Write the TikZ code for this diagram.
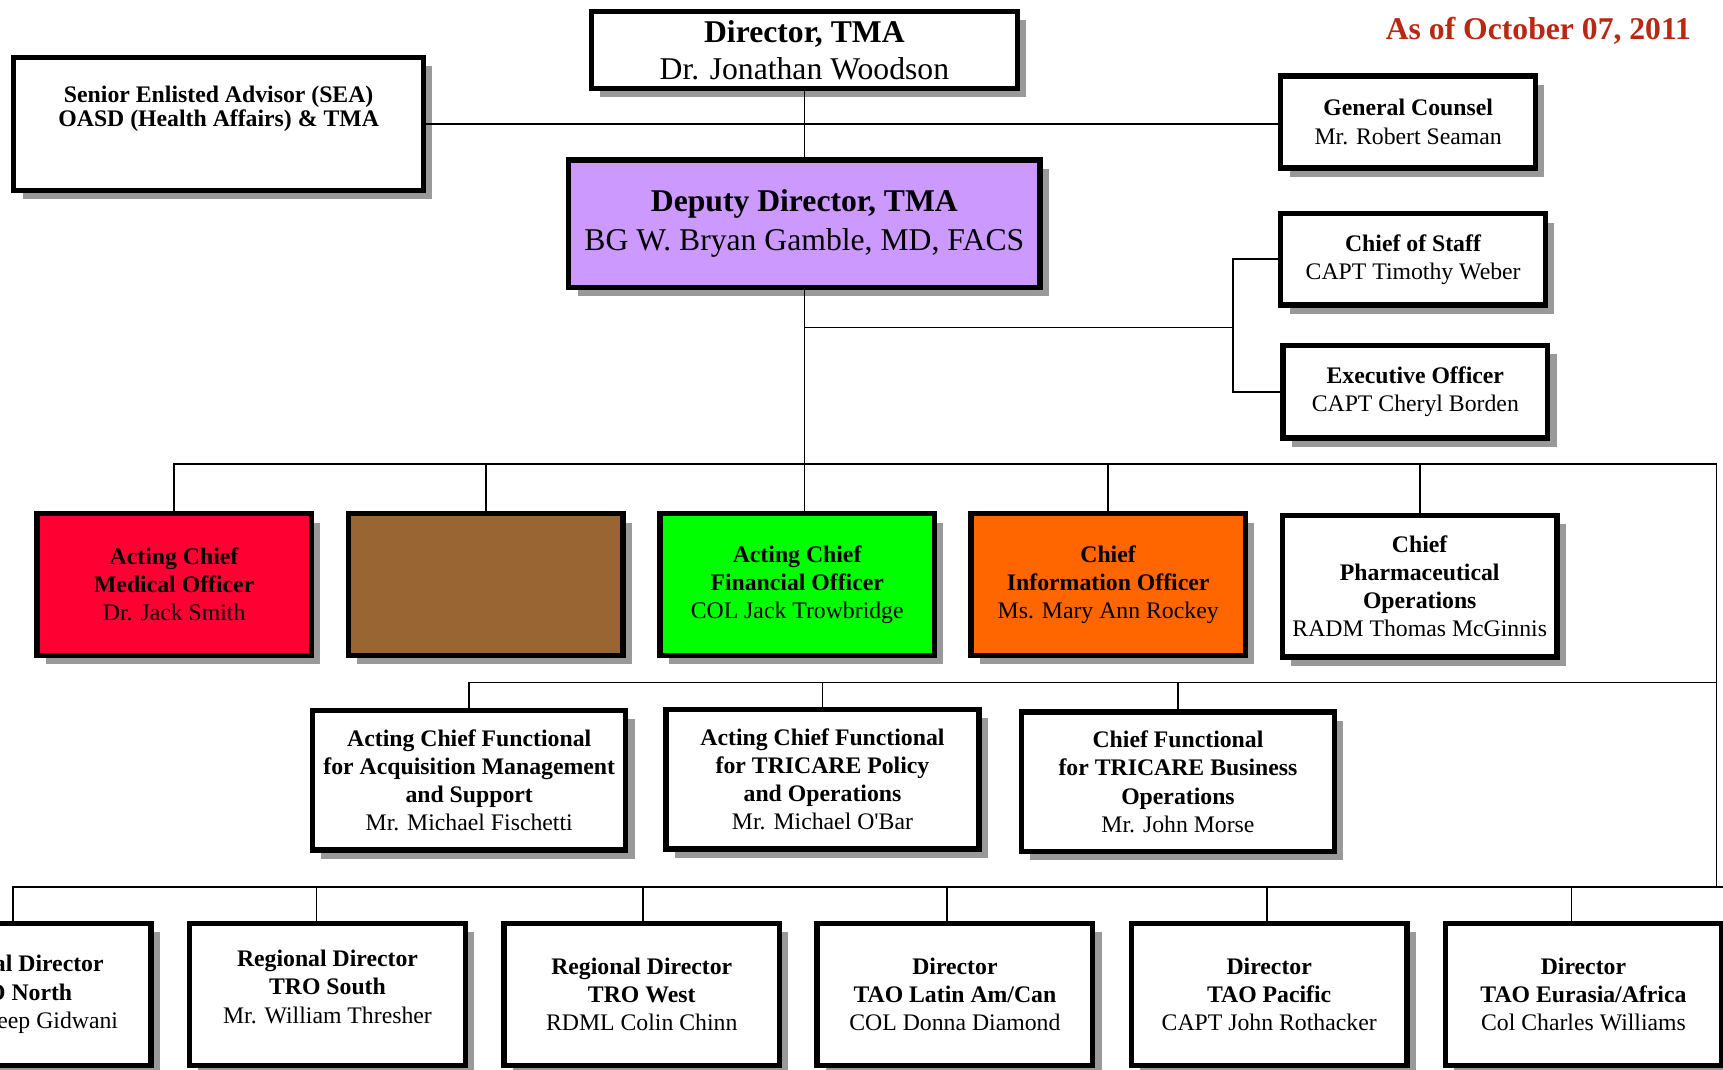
\documentclass[tikz,border=0pt]{standalone}
\usepackage{fontspec}
\setmainfont{Liberation Serif}
\usetikzlibrary{shadows,calc}
\definecolor{shadowgray}{HTML}{999999}
\definecolor{deppurple}{HTML}{CC99FF}
\definecolor{medred}{HTML}{FF0033}
\definecolor{boxbrown}{HTML}{996633}
\definecolor{fingreen}{HTML}{00FF00}
\definecolor{inforange}{HTML}{FF6600}
\definecolor{datered}{RGB}{184,40,18}
\newcommand{\rowfont}{\fontsize{12.3}{14.6}\selectfont}
\newcommand{\bigfont}{\fontsize{16.4}{19.3}\selectfont}

\tikzset{
  unit/.style={draw, line width=2.8pt, fill=white, align=center, inner sep=0pt, font=\rowfont,
    drop shadow={shadow xshift=0.16cm, shadow yshift=-0.16cm, fill=shadowgray, opacity=1}},
  topunit/.style={unit, font=\bigfont},
  rowtwo/.style={unit, minimum width=5cm, minimum height=2.58cm},
  rowthree/.style={unit, minimum width=5.7cm, minimum height=2.54cm},
  rowfour/.style={unit, minimum width=5.02cm, minimum height=2.58cm},
  link/.style={line width=0.9pt}
}

\begin{document}
\begin{tikzpicture}[x=0.02cm,y=-0.02cm]
\useasboundingbox (0,0) rectangle (1568,973);

\node (date) at (1400,28)[font=\bigfont\bfseries, text=datered]{As of October 07, 2011};

% front office
\node (dir) at (732,45.5)[topunit, minimum width=7.76cm, minimum height=1.4cm]{\textbf{Director, TMA}\\Dr. Jonathan Woodson};
\node (sea) at (199,113)[unit, minimum width=7.46cm, minimum height=2.42cm]{};
\node (seatxt) at (199,99)[align=center, font=\fontsize{12.3}{12.6}\selectfont]{\textbf{Senior Enlisted Advisor (SEA)}\\\textbf{OASD (Health Affairs) \& TMA}};
\node (gc) at (1281.5,111)[unit, minimum width=4.64cm, minimum height=1.68cm, font=\fontsize{12.3}{15.3}\selectfont]{\textbf{General Counsel}\\Mr. Robert Seaman};
\node (dep) at (732,203.5)[topunit, fill=deppurple, minimum width=8.58cm, minimum height=2.32cm, font=\fontsize{16.4}{19.9}\selectfont]{\textbf{Deputy Director, TMA}\\BG W. Bryan Gamble, MD, FACS};
\node (cos) at (1286,236)[unit, minimum width=4.82cm, minimum height=1.66cm]{\textbf{Chief of Staff}\\CAPT Timothy Weber};
\node (xo) at (1288,356.5)[unit, minimum width=4.82cm, minimum height=1.68cm]{\textbf{Executive Officer}\\CAPT Cheryl Borden};

% chiefs
\node (cmo) at (158.5,532)[rowtwo, fill=medred]{\textbf{Acting Chief}\\\textbf{Medical Officer}\\Dr. Jack Smith};
\node (brn) at (442,532)[rowtwo, fill=boxbrown]{};
\node (cfo) at (725.5,532)[rowtwo, fill=fingreen]{\textbf{Acting Chief}\\\textbf{Financial Officer}\\COL Jack Trowbridge};
\node (cio) at (1008.5,532)[rowtwo, fill=inforange]{\textbf{Chief}\\\textbf{Information Officer}\\Ms. Mary Ann Rockey};
\node (phm) at (1292,533.5)[rowtwo]{\textbf{Chief}\\\textbf{Pharmaceutical}\\\textbf{Operations}\\RADM Thomas McGinnis};

% functional chiefs
\node (acq) at (427,710)[rowthree]{\textbf{Acting Chief Functional}\\\textbf{for Acquisition Management}\\\textbf{and Support}\\Mr. Michael Fischetti};
\node (pol) at (748.5,709)[rowthree]{\textbf{Acting Chief Functional}\\\textbf{for TRICARE Policy}\\\textbf{and Operations}\\Mr. Michael O\textquotesingle Bar};
\node (tbo) at (1072,711.5)[rowthree]{\textbf{Chief Functional}\\\textbf{for TRICARE Business}\\\textbf{Operations}\\Mr. John Morse};

% regions
\node (nor) at (12,905)[rowfour]{\textbf{Regional Director}\\\textbf{TRO North}\\Mr. Sandeep Gidwani};
\node (sou) at (298,905)[rowfour]{};
\node (soutxt) at (298,898)[align=center, font=\fontsize{12.3}{14.9}\selectfont]{\textbf{Regional Director}\\\textbf{TRO South}\\Mr. William Thresher};
\node (wst) at (584,905)[rowfour]{\textbf{Regional Director}\\\textbf{TRO West}\\RDML Colin Chinn};
\node (lat) at (869,905)[rowfour]{\textbf{Director}\\\textbf{TAO Latin Am/Can}\\COL Donna Diamond};
\node (pac) at (1155,905)[rowfour]{\textbf{Director}\\\textbf{TAO Pacific}\\CAPT John Rothacker};
\node (eur) at (1441,905)[rowfour]{\textbf{Director}\\\textbf{TAO Eurasia/Africa}\\Col Charles Williams};

\coordinate (brk) at (1122,298);
\coordinate (rt1) at (1562,422);
\coordinate (rt2) at (1562,621);
\coordinate (rt3) at (1562,807);
\coordinate (rt4) at (1570,807);

\draw[link] (dir.south) -- (dep.north);
\draw[link] (sea.east) -- (sea.east -| gc.west);
\draw[link] (dep.south) -- (dep.south |- cfo.north);
\draw[link] (dep.south |- brk) -- (brk);
\draw[link] (cos.west) -| (brk) |- (xo.west);
\draw[link] (cmo.north) |- (rt1) -- (rt3);
\foreach \n in {brn,cio,phm} \draw[link] (\n.north) -- (\n.north |- rt1);
\draw[link] (acq.north) |- (rt2);
\foreach \n in {pol,tbo} \draw[link] (\n.north) -- (\n.north |- rt2);
\draw[link] (nor.north) |- (rt4);
\foreach \n/\x in {sou/288,wst/585,lat/862,pac/1153,eur/1430}{
  \coordinate (t\n) at (\x,807);
  \draw[link] (t\n) -- (t\n |- \n.north);
}
\end{tikzpicture}
\end{document}
